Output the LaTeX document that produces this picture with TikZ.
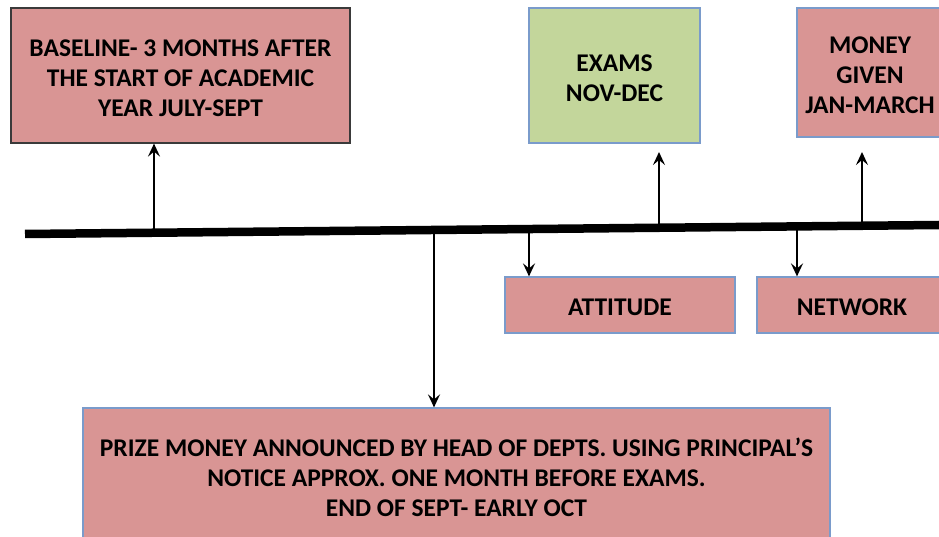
\documentclass[tikz,border=0pt]{standalone}
\usepackage{fontspec}
\setmainfont{Carlito}
\usetikzlibrary{arrows.meta}
\definecolor{pinkfill}{HTML}{D99594}
\definecolor{greenfill}{HTML}{C3D69B}
\definecolor{blueedge}{HTML}{7A9BCB}
\definecolor{darkedge}{HTML}{3A3A3A}
\begin{document}
\begin{tikzpicture}[x=1pt,y=-1pt,
  box/.style={draw=blueedge, line width=1.2pt, fill=pinkfill, inner sep=0pt},
  txt/.style={align=center, font=\bfseries\fontsize{25.5}{30}\selectfont, inner sep=0pt, yshift=-3pt},
  conn/.style={line width=2pt, -{Stealth[length=13pt,width=12pt,inset=5pt]}}]
\useasboundingbox (0,0) rectangle (939,537);
% boxes
\node[box, draw=darkedge, minimum width=339pt, minimum height=135pt,
  label={[txt]center:{BASELINE- 3 MONTHS AFTER\\THE START OF ACADEMIC\\YEAR JULY-SEPT}}] (base) at (180.5,75.5) {};
\node[box, fill=greenfill, minimum width=171pt, minimum height=135pt,
  label={[txt]center:{EXAMS\\NOV-DEC}}] (exams) at (614.5,75.5) {};
\node[box, minimum width=146pt, minimum height=129pt,
  label={[txt]center:{MONEY\\GIVEN\\JAN-MARCH}}] (money) at (870,72.5) {};
\node[box, minimum width=230pt, minimum height=56pt,
  label={[txt,yshift=1pt]center:{ATTITUDE}}] (att) at (620,305) {};
\node[box, minimum width=190pt, minimum height=56pt,
  label={[txt,yshift=1pt]center:{NETWORK}}] (net) at (852,305) {};
\node[box, minimum width=747pt, minimum height=132pt,
  label={[txt]center:{PRIZE MONEY ANNOUNCED BY HEAD OF DEPTS. USING PRINCIPAL’S\\NOTICE APPROX. ONE MONTH BEFORE EXAMS.\\END OF SEPT- EARLY OCT}}] (prize) at (456.5,474) {};
% timeline
\coordinate (tl) at (25,234);
\coordinate (tr) at (939,225);
\draw[line width=8.5pt] (tl) -- (tr);
% points on the timeline
\coordinate (p1) at (154,232.7);
\coordinate (p2) at (434,230);
\coordinate (p3) at (529,229);
\coordinate (p4) at (659,227.8);
\coordinate (p5) at (797,226.4);
\coordinate (p6) at (862,225.8);
\coordinate (e2) at (659,152);
\coordinate (e3) at (862,152);
% connectors
\draw[conn] (p1) -- (p1 |- base.south);
\draw[conn] (p4) -- (e2);
\draw[conn] (p6) -- (e3);
\draw[conn] (p3) -- (p3 |- att.north);
\draw[conn] (p5) -- (p5 |- net.north);
\draw[conn] (p2) -- (p2 |- prize.north);
\end{tikzpicture}
\end{document}
